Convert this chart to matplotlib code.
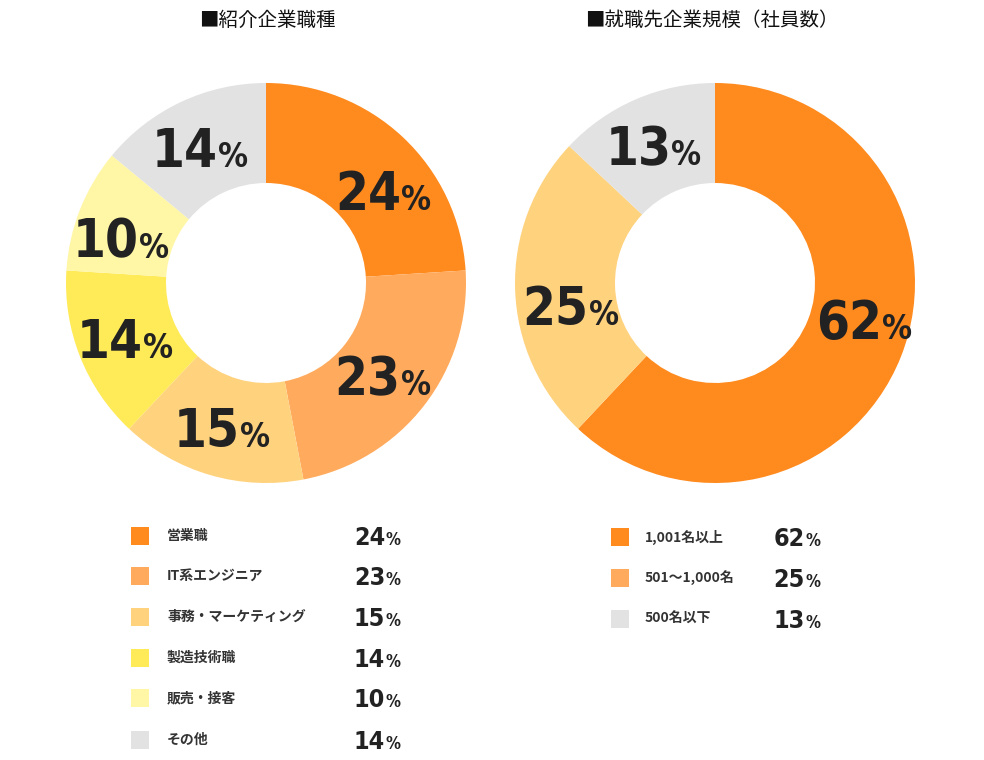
import matplotlib
matplotlib.use("Agg")
from matplotlib import pyplot as plt
from matplotlib.transforms import offset_copy
from matplotlib.patches import Rectangle
import numpy as np

# dados
cat_esq = ["営業職", "IT系エンジニア", "事務・マーケティング", "製造技術職", "販売・接客", "その他"]
val_esq = [24, 23, 15, 14, 10, 14]
cor_esq = ["#FF8A1E", "#FFAA5C", "#FFD27E", "#FFEA58", "#FFF6A6", "#E2E2E2"]

cat_dir = ["1,001名以上", "501～1,000名", "500名以下"]
val_dir = [62, 25, 13]
cor_dir = ["#FF8A1E", "#FFD27E", "#E2E2E2"]
cor_leg_dir = ["#FF8A1E", "#FFAA5C", "#E2E2E2"]

titulo_esq = "■紹介企業職種"
titulo_dir = "■就職先企業規模（社員数）"

JP = ["Noto Sans CJK JP", "DejaVu Sans"]
NUM = "DejaVu Sans"
TXT = "#222222"

W, H = 984, 760
fig = plt.figure(figsize=(W / 100, H / 100), dpi=100)
ax = fig.add_axes([0, 0, 1, 1])


def py(y):
    # coordenada de imagem -> eixo
    return H - y


def pct(x, y, v, big, small, gap=0):
    ax.text(x, y, str(v), ha="right", va="baseline", fontsize=big,
            fontweight="bold", fontstretch="condensed", family=NUM, color=TXT)
    t2 = offset_copy(ax.transData, fig=fig, x=gap, y=0, units="points")
    ax.text(x, y, "%", transform=t2, ha="left", va="baseline", fontsize=small,
            fontweight="bold", fontstretch="condensed", family=NUM, color=TXT)


# ajustes finos de angulo/raio dos rotulos (layout)
ajuste_esq = {0: (-9, 151), 4: (4, 150)}
ajuste_dir = {0: (8, 155), 1: (7, 144)}


def donut(cx, cy, vals, cores, ajuste):
    ax.pie(vals, colors=cores, center=(cx, py(cy)), radius=200, startangle=90,
           counterclock=False, wedgeprops=dict(width=100, linewidth=0))
    tot = float(sum(vals))
    acum = 0
    for i, v in enumerate(vals):
        dang, r = ajuste.get(i, (0, 150))
        ang = np.deg2rad(90 - 360 * (acum + v / 2) / tot + dang)
        acum += v
        x = cx + r * np.cos(ang)
        y = py(cy) + r * np.sin(ang)
        pct(x + 16, y - 20, v, 38, 24)


donut(266, 283, val_esq, cor_esq, ajuste_esq)
donut(715, 283, val_dir, cor_dir, ajuste_dir)

ax.text(267, py(20), titulo_esq, ha="center", va="center", fontsize=14, family=JP, color="#111111")
ax.text(712, py(20), titulo_dir, ha="center", va="center", fontsize=14, family=JP, color="#111111")

# legendas
ys_esq = [536, 576, 617, 658, 698, 740]
for c, v, cor, y in zip(cat_esq, val_esq, cor_esq, ys_esq):
    ax.add_patch(Rectangle((131, py(y) - 9), 18, 18, color=cor, lw=0))
    ax.text(167, py(y), c, ha="left", va="center", fontsize=10, fontweight="bold", family=JP, color="#333333")
    pct(385, py(y) - 9, v, 18, 12)

ys_dir = [537, 578, 619]
for c, v, cor, y in zip(cat_dir, val_dir, cor_leg_dir, ys_dir):
    ax.add_patch(Rectangle((611, py(y) - 9), 18, 18, color=cor, lw=0))
    ax.text(645, py(y), c, ha="left", va="center", fontsize=10, fontweight="bold", family=JP, color="#333333")
    pct(805, py(y) - 9, v, 18, 12)

ax.set_xlim(0, W)
ax.set_ylim(0, H)
ax.set_aspect("equal")
ax.axis("off")

fig.savefig("out.png", dpi=100, facecolor="white")
